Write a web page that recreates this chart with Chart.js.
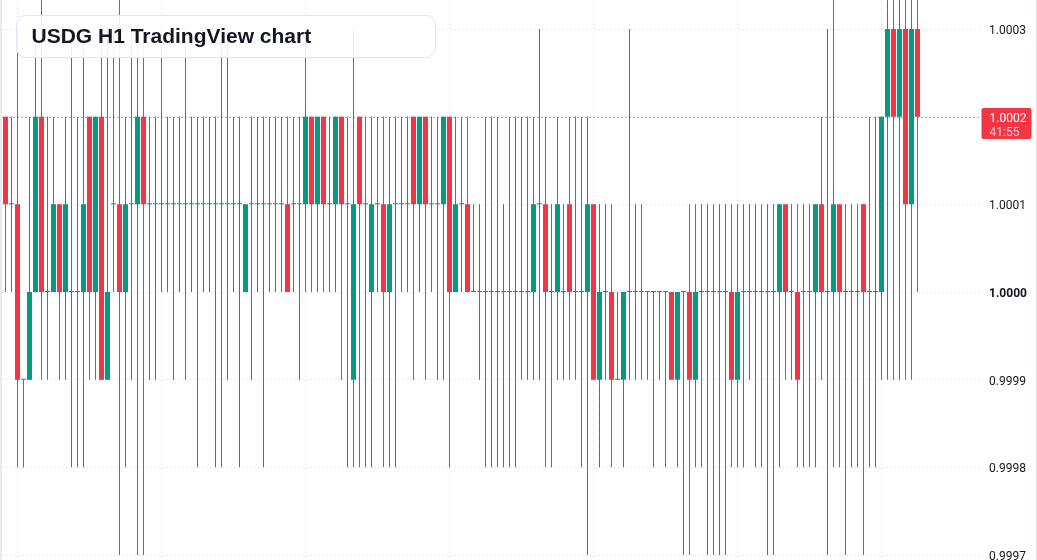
<!DOCTYPE html>
<html>
<head>
<meta charset="utf-8">
<title>USDG H1 TradingView chart</title>
<script src="https://cdn.jsdelivr.net/npm/chart.js@4.4.1/dist/chart.umd.min.js"></script>
<style>
  html, body { margin: 0; padding: 0; background: #fff; }
  #wrap { position: relative; width: 1037px; height: 560px; overflow: hidden; background: #fff; }
  #edgeL { position: absolute; left: 0; top: 0; width: 2px; height: 560px; background: #e9eaec; }
  #edgeR { position: absolute; left: 1036px; top: 0; width: 1px; height: 560px; background: #e0e3eb; }
  #chartBox { position: absolute; left: 2px; top: 0; width: 1034px; height: 560px; }
  #title {
    position: absolute; left: 16px; top: 15px; width: 420px; height: 43px;
    box-sizing: border-box; padding-left: 14.5px;
    border: 1.5px solid #d9e6fb; border-radius: 10px;
    background: rgba(255, 255, 255, 0.9);
    font: bold 21px "Liberation Sans", Arial, sans-serif; color: #131722;
    line-height: 40px; white-space: nowrap;
  }
</style>
</head>
<body>
<div id="wrap">
  <div id="edgeL"></div>
  <div id="chartBox"><canvas id="chart" width="1034" height="560"></canvas></div>
  <div id="edgeR"></div>
  <div id="title">USDG H1 TradingView chart</div>
</div>
<script>
// hourly candles, oldest first
const opens = [
  1.0002, 1.0001, 1.0001, 0.9999, 0.9999, 1.0000, 1.0002, 1.0000, 1.0000, 1.0001, 1.0000, 1.0000, 1.0000,
  1.0000, 1.0002, 1.0000, 1.0002, 0.9999, 1.0001, 1.0001, 1.0000, 1.0001, 1.0001, 1.0002, 1.0001, 1.0001,
  1.0001, 1.0001, 1.0001, 1.0001, 1.0001, 1.0001, 1.0001, 1.0001, 1.0001, 1.0001, 1.0001, 1.0001, 1.0001,
  1.0001, 1.0000, 1.0001, 1.0001, 1.0001, 1.0001, 1.0001, 1.0001, 1.0001, 1.0001, 1.0001, 1.0001, 1.0002,
  1.0001, 1.0002, 1.0001, 1.0001, 1.0002, 1.0001, 0.9999, 1.0002, 1.0001, 1.0000, 1.0001, 1.0001, 1.0000,
  1.0001, 1.0001, 1.0001, 1.0002, 1.0001, 1.0002, 1.0001, 1.0001, 1.0001, 1.0002, 1.0000, 1.0001, 1.0001,
  1.0000, 1.0000, 1.0000, 1.0000, 1.0000, 1.0000, 1.0000, 1.0000, 1.0000, 1.0000, 1.0000, 1.0001, 1.0001,
  1.0000, 1.0000, 1.0000, 1.0001, 1.0000, 1.0000, 1.0000, 1.0001, 0.9999, 1.0000, 1.0000, 0.9999, 0.9999,
  1.0000, 1.0000, 1.0000, 1.0000, 1.0000, 1.0000, 1.0000, 1.0000, 0.9999, 1.0000, 1.0000, 0.9999, 1.0000,
  1.0000, 1.0000, 1.0000, 1.0000, 1.0000, 0.9999, 1.0000, 1.0000, 1.0000, 1.0000, 1.0000, 1.0000, 1.0000,
  1.0001, 1.0000, 1.0000, 1.0000, 1.0000, 1.0000, 1.0001, 1.0000, 1.0000, 1.0001, 1.0000, 1.0000, 1.0000,
  1.0001, 1.0000, 1.0000, 1.0000, 1.0002, 1.0003, 1.0002, 1.0003, 1.0001, 1.0003
];
const highs = [
  1.0002, 1.0002, 1.0003, 0.9999, 1.0002, 1.0003, 1.0004, 1.0002, 1.0002, 1.0001, 1.0002, 1.0003, 1.0002,
  1.0003, 1.0002, 1.0002, 1.0003, 1.0003, 1.0003, 1.0004, 1.0002, 1.0003, 1.0003, 1.0003, 1.0002, 1.0002,
  1.0003, 1.0002, 1.0002, 1.0002, 1.0003, 1.0002, 1.0002, 1.0002, 1.0002, 1.0002, 1.0003, 1.0003, 1.0002,
  1.0002, 1.0001, 1.0002, 1.0002, 1.0002, 1.0002, 1.0002, 1.0002, 1.0002, 1.0002, 1.0002, 1.0003, 1.0002,
  1.0002, 1.0002, 1.0002, 1.0002, 1.0002, 1.0002, 1.0003, 1.0002, 1.0002, 1.0002, 1.0002, 1.0002, 1.0002,
  1.0002, 1.0002, 1.0002, 1.0002, 1.0002, 1.0002, 1.0002, 1.0002, 1.0002, 1.0002, 1.0002, 1.0002, 1.0002,
  1.0001, 1.0001, 1.0002, 1.0002, 1.0002, 1.0001, 1.0002, 1.0002, 1.0002, 1.0002, 1.0002, 1.0003, 1.0002,
  1.0001, 1.0002, 1.0001, 1.0002, 1.0002, 1.0002, 1.0002, 1.0001, 1.0001, 1.0001, 1.0001, 1.0000, 1.0000,
  1.0003, 1.0001, 1.0001, 1.0000, 1.0000, 1.0000, 1.0000, 1.0000, 1.0000, 1.0000, 1.0001, 1.0001, 1.0001,
  1.0001, 1.0001, 1.0001, 1.0001, 1.0001, 1.0001, 1.0001, 1.0001, 1.0001, 1.0001, 1.0001, 1.0001, 1.0001,
  1.0001, 1.0001, 1.0001, 1.0001, 1.0001, 1.0001, 1.0002, 1.0003, 1.0004, 1.0001, 1.0001, 1.0001, 1.0001,
  1.0001, 1.0002, 1.0002, 1.0002, 1.0004, 1.0004, 1.0004, 1.0004, 1.0004, 1.0004
];
const lows = [
  1.0000, 1.0000, 0.9998, 0.9998, 0.9999, 1.0000, 0.9999, 0.9999, 1.0000, 0.9999, 0.9999, 0.9998, 0.9998,
  0.9998, 0.9999, 0.9999, 0.9999, 0.9999, 1.0000, 0.9997, 0.9998, 0.9999, 0.9997, 0.9997, 0.9999, 0.9999,
  1.0000, 1.0000, 0.9999, 1.0000, 0.9999, 1.0000, 0.9998, 1.0000, 1.0000, 0.9998, 0.9998, 0.9999, 1.0000,
  0.9998, 1.0000, 0.9999, 1.0000, 0.9998, 1.0000, 1.0000, 1.0000, 1.0000, 1.0000, 0.9999, 1.0000, 1.0000,
  1.0000, 1.0000, 1.0000, 1.0000, 0.9999, 0.9998, 0.9998, 0.9998, 0.9998, 0.9998, 1.0000, 0.9998, 0.9998,
  0.9998, 1.0000, 1.0000, 0.9999, 1.0000, 0.9999, 1.0000, 0.9999, 0.9999, 0.9998, 1.0000, 1.0000, 1.0000,
  1.0000, 0.9999, 0.9998, 0.9998, 0.9998, 0.9998, 0.9998, 0.9998, 0.9999, 0.9999, 0.9999, 0.9999, 0.9998,
  0.9998, 0.9999, 0.9999, 0.9999, 0.9999, 0.9998, 0.9997, 0.9999, 0.9998, 0.9999, 0.9998, 0.9999, 0.9998,
  0.9999, 0.9999, 0.9999, 0.9999, 0.9998, 0.9999, 0.9998, 0.9999, 0.9998, 0.9997, 0.9997, 0.9998, 0.9998,
  0.9997, 0.9997, 0.9997, 0.9997, 0.9998, 0.9998, 0.9998, 0.9999, 0.9998, 0.9998, 0.9997, 0.9997, 0.9998,
  0.9999, 0.9999, 0.9998, 0.9998, 0.9998, 0.9998, 0.9999, 0.9997, 0.9998, 0.9998, 0.9997, 0.9998, 0.9998,
  0.9997, 0.9998, 0.9998, 0.9999, 0.9999, 0.9999, 0.9999, 0.9999, 0.9999, 1.0000
];
const closes = [
  1.0001, 1.0001, 0.9999, 0.9999, 1.0000, 1.0002, 1.0000, 1.0000, 1.0001, 1.0000, 1.0001, 1.0000, 1.0000,
  1.0001, 1.0000, 1.0002, 0.9999, 1.0000, 1.0001, 1.0000, 1.0001, 1.0001, 1.0002, 1.0001, 1.0001, 1.0001,
  1.0001, 1.0001, 1.0001, 1.0001, 1.0001, 1.0001, 1.0001, 1.0001, 1.0001, 1.0001, 1.0001, 1.0001, 1.0001,
  1.0001, 1.0001, 1.0001, 1.0001, 1.0001, 1.0001, 1.0001, 1.0001, 1.0000, 1.0001, 1.0001, 1.0002, 1.0001,
  1.0002, 1.0001, 1.0001, 1.0002, 1.0001, 1.0001, 1.0001, 1.0001, 1.0001, 1.0001, 1.0001, 1.0000, 1.0001,
  1.0001, 1.0001, 1.0001, 1.0001, 1.0002, 1.0001, 1.0001, 1.0001, 1.0002, 1.0000, 1.0001, 1.0001, 1.0000,
  1.0000, 1.0000, 1.0000, 1.0000, 1.0000, 1.0000, 1.0000, 1.0000, 1.0000, 1.0000, 1.0001, 1.0001, 1.0000,
  1.0000, 1.0001, 1.0000, 1.0000, 1.0000, 1.0000, 1.0001, 0.9999, 1.0000, 1.0000, 0.9999, 0.9999, 1.0000,
  1.0000, 1.0000, 1.0000, 1.0000, 1.0000, 1.0000, 1.0000, 0.9999, 1.0000, 1.0000, 0.9999, 1.0000, 1.0000,
  1.0000, 1.0000, 1.0000, 1.0000, 0.9999, 1.0000, 1.0000, 1.0000, 1.0000, 1.0000, 1.0000, 1.0000, 1.0001,
  1.0000, 1.0000, 0.9999, 1.0000, 1.0000, 1.0001, 1.0000, 1.0000, 1.0001, 1.0000, 1.0000, 1.0000, 1.0000,
  1.0000, 1.0000, 1.0000, 1.0002, 1.0003, 1.0002, 1.0003, 1.0001, 1.0003, 1.0002
];

const priceTicks = [0.9997, 0.9998, 0.9999, 1.0000, 1.0001, 1.0002, 1.0003];
const countdown = "41:55";
const emptySlots = 10; // free space right of the last bar

const upColor = "#089981";
const downColor = "#F23645";
const gridColor = "#d6d8de";

const slots = [];
for (let i = 0; i < opens.length + emptySlots; i++) slots.push(String(i));

const wicks = lows.map((l, i) => [l, highs[i]]);
const bodies = opens.map((o, i) => [o, closes[i]]);
const barColors = closes.map((c, i) => (c >= opens[i] ? upColor : downColor));
const lastClose = closes[closes.length - 1];
const lastColor = barColors[barColors.length - 1];

// last price line + label on the price scale
const lastPricePlugin = {
  id: "lastPrice",
  beforeDatasetsDraw(chart) {
    const { ctx, chartArea, scales } = chart;
    const py = Math.round(scales.y.getPixelForValue(lastClose)) + 0.5;
    ctx.save();
    ctx.strokeStyle = lastColor;
    ctx.lineWidth = 1;
    ctx.setLineDash([1, 3]);
    ctx.beginPath();
    ctx.moveTo(chartArea.left - 1, py);
    ctx.lineTo(chartArea.right, py);
    ctx.stroke();
    ctx.restore();
  },
  afterDraw(chart) {
    const { ctx, chartArea, scales } = chart;
    const py = Math.round(scales.y.getPixelForValue(lastClose));
    const x = Math.round(chartArea.right) + 0.5;
    ctx.save();
    ctx.fillStyle = lastColor;
    ctx.beginPath();
    ctx.roundRect(x, py - 9, 50, 31, 2);
    ctx.fill();
    ctx.font = "12px Roboto, 'Liberation Sans', sans-serif";
    ctx.textBaseline = "middle";
    ctx.textAlign = "left";
    ctx.fillStyle = "#ffffff";
    ctx.fillText(lastClose.toFixed(4), x + 8, py + 1.5);
    ctx.fillStyle = "rgba(255,255,255,0.72)";
    ctx.fillText(countdown, x + 8, py + 15.5);
    ctx.restore();
  }
};

const ctx = document.getElementById("chart").getContext("2d");

new Chart(ctx, {
  type: "bar",
  data: {
    labels: slots,
    datasets: [
      {
        label: "wick",
        data: wicks,
        backgroundColor: barColors,
        barThickness: 1,
        grouped: false,
        inflateAmount: 0,
        order: 2
      },
      {
        label: "body",
        data: bodies,
        backgroundColor: barColors,
        barThickness: 5,
        minBarLength: 1,
        grouped: false,
        inflateAmount: 0,
        order: 1
      }
    ]
  },
  options: {
    responsive: false,
    animation: false,
    layout: { padding: { left: 0.5, right: 0, top: 0, bottom: 0 } },
    plugins: {
      legend: { display: false },
      tooltip: { enabled: false }
    },
    scales: {
      x: {
        offset: true,
        ticks: { display: false, autoSkip: false },
        grid: {
          offset: false,
          drawTicks: false,
          color: (c) => (c.index % 24 === 2 ? gridColor : "rgba(0,0,0,0)")
        },
        border: { display: false, dash: [1, 3] },
        afterFit: (scale) => {
          scale.height = 0;
          scale.paddingLeft = 0;
          scale.paddingRight = 0;
        }
      },
      y: {
        position: "right",
        min: 0.9996943,
        max: 1.0003331,
        afterBuildTicks: (scale) => {
          scale.ticks = priceTicks.map((v) => ({ value: v }));
        },
        afterFit: (scale) => {
          scale.width = 55.5;
          scale.paddingTop = 0;
          scale.paddingBottom = 0;
        },
        ticks: {
          padding: 8.5,
          labelOffset: 2,
          color: "#131722",
          font: (c) => ({
            family: "Roboto, 'Liberation Sans', sans-serif",
            size: 12,
            weight: c.tick && c.tick.value === 1 ? "bold" : "normal"
          }),
          callback: (v) => Number(v).toFixed(4)
        },
        grid: { color: gridColor, drawTicks: false },
        border: { display: false, dash: [1, 3] }
      }
    }
  },
  plugins: [lastPricePlugin]
});
</script>
</body>
</html>
